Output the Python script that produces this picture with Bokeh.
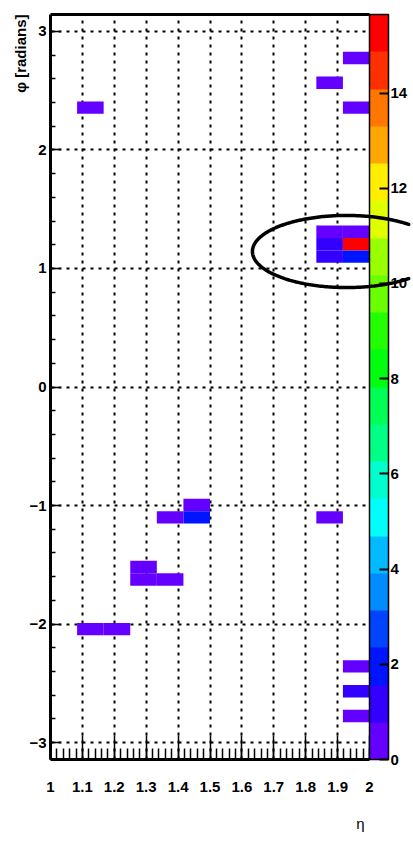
import numpy as np
from bokeh.plotting import figure
from bokeh.models import (ColumnDataSource, Range1d, LinearColorMapper, ColorBar,
                          SingleIntervalTicker, FixedTicker, CustomJSTickFormatter,
                          LinearAxis, Title)
from bokeh.embed import file_html
from bokeh.resources import INLINE

# ---- histogram definition: eta (12 bins) x phi (60 bins) ----
ETA_MIN, ETA_MAX, N_ETA = 1.0, 2.0, 12
PHI_MIN, PHI_MAX, N_PHI = -np.pi, np.pi, 60

# filled cells: eta bin index, phi bin index (counted from phi = -pi), content
eta_bin = [11, 10, 11, 1, 10, 11, 10, 11, 10, 11, 5, 5, 4, 10, 3, 3, 4, 1, 2, 11, 11, 11]
phi_bin = [56, 54, 52, 52, 42, 42, 41, 41, 40, 40, 20, 19, 19, 19, 15, 14, 14, 10, 10, 7, 5, 3]
content = [0.5, 0.5, 0.5, 0.5, 0.5, 0.5, 1.2, 14.9, 1.2, 1.9, 0.5, 1.9, 0.5, 0.5,
           0.5, 0.5, 0.5, 0.5, 0.5, 0.5, 1.2, 0.5]

# z axis (palette) range and labelled values
Z_MIN, Z_MAX = 0.0, 15.65
z_ticks = [0, 2, 4, 6, 8, 10, 12, 14]

# 20-level violet -> red palette
palette = ["#6300ff", "#3300ff", "#0014ff", "#0044ff", "#008bff", "#00bbff",
           "#00fffb", "#00ffcc", "#00ff85", "#00ff55", "#00ff0e", "#22ff00",
           "#69ff00", "#99ff00", "#e0ff00", "#ffee00", "#ffa700", "#ff7700",
           "#ff3000", "#ff0000"]

x_title = "η"
y_title = "φ [radians]"

FONT = "Liberation Sans"
INK = "black"

d_eta = (ETA_MAX - ETA_MIN) / N_ETA
d_phi = (PHI_MAX - PHI_MIN) / N_PHI
eb = np.array(eta_bin)
pb = np.array(phi_bin)
src = ColumnDataSource(dict(
    left=ETA_MIN + eb * d_eta, right=ETA_MIN + (eb + 1) * d_eta,
    bottom=PHI_MIN + pb * d_phi, top=PHI_MIN + (pb + 1) * d_phi,
    z=content))

mapper = LinearColorMapper(palette=palette, low=Z_MIN, high=Z_MAX)

p = figure(frame_width=319, frame_height=745,
           x_range=Range1d(ETA_MIN, ETA_MAX), y_range=Range1d(PHI_MIN, PHI_MAX),
           output_backend="svg", toolbar_location=None,
           min_border_left=50, min_border_right=44, min_border_top=14,
           min_border_bottom=90, background_fill_color="white",
           border_fill_color="white")
p.outline_line_color = None

p.quad(left="left", right="right", bottom="bottom", top="top", source=src,
       fill_color={"field": "z", "transform": mapper}, line_color=None)

# ---- axes ----
xt = SingleIntervalTicker(interval=0.1, num_minor_ticks=5)
yt = SingleIntervalTicker(interval=1, num_minor_ticks=5)

xax = p.xaxis[0]
xax.ticker = xt
xax.formatter = CustomJSTickFormatter(code="return String(Math.round(tick*10)/10);")
xax.major_tick_in, xax.major_tick_out = 24, 0
xax.minor_tick_in, xax.minor_tick_out = 11, 0
xax.major_label_standoff = 22

yax = p.yaxis[0]
yax.ticker = yt
yax.major_tick_in, yax.major_tick_out = 10, 0
yax.minor_tick_in, yax.minor_tick_out = 5, 0
yax.major_label_standoff = 4

for ax in (xax, yax):
    ax.major_tick_line_width = 1.5
    ax.minor_tick_line_width = 1.5
    ax.major_tick_line_color = INK
    ax.minor_tick_line_color = INK
    ax.axis_line_width = 3
    ax.axis_line_color = INK
    ax.major_label_text_font = FONT
    ax.major_label_text_font_size = "15px"
    ax.major_label_text_font_style = "bold"
    ax.major_label_text_color = INK

# top border of the frame
top_axis = LinearAxis(ticker=FixedTicker(ticks=[]), axis_line_width=3,
                      axis_line_color=INK,
                      major_tick_in=0, major_tick_out=0,
                      minor_tick_in=0, minor_tick_out=0,
                      major_label_text_font_size="0px")
p.add_layout(top_axis, "above")

# axis titles, flush with the far end of each axis
p.add_layout(Title(text=x_title, align="right", standoff=36, offset=5,
                   text_font=FONT, text_font_size="15px", text_color=INK,
                   text_font_style="normal"), "below")
p.add_layout(Title(text=y_title, align="right", standoff=-5,
                   text_font=FONT, text_font_size="15px", text_color=INK,
                   text_font_style="bold"), "left")

# dotted grid
for g, t in ((p.xgrid[0], xt), (p.ygrid[0], yt)):
    g.ticker = t
    g.grid_line_color = INK
    g.grid_line_width = 2
    g.grid_line_dash = "3 5"

# ---- palette ----
cb = ColorBar(color_mapper=mapper, ticker=FixedTicker(ticks=z_ticks),
              width=19, padding=0, margin=0, label_standoff=2,
              major_tick_in=9, major_tick_out=0, minor_tick_in=0, minor_tick_out=0,
              major_tick_line_color=INK, major_tick_line_width=2,
              bar_line_color=INK, bar_line_width=1.5,
              border_line_color=None, background_fill_color="white",
              major_label_text_font=FONT, major_label_text_font_size="15px",
              major_label_text_font_style="bold", major_label_text_color=INK)
p.add_layout(cb, "right")

# hand-drawn ring around the hot spot
cx, cy, ax_eta, ax_phi = 1.928, 1.143, 0.295, 0.304
t = np.radians(np.linspace(48.7, 311.3, 240))
p.line(cx + ax_eta * np.cos(t), cy + ax_phi * np.sin(t),
       line_color=INK, line_width=3.5, line_cap="round", level="overlay")

open("out.html", "w").write(file_html(p, INLINE))
